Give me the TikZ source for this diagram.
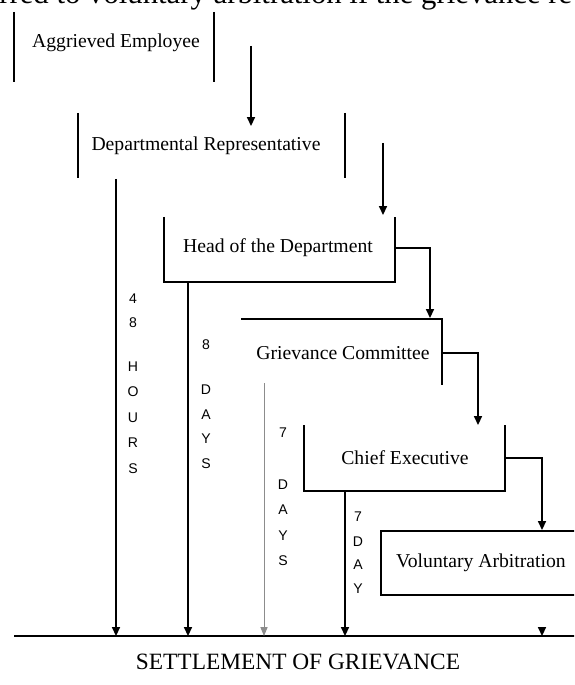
\documentclass[tikz,border=0pt]{standalone}
\usepackage{fontspec}
\setmainfont{Liberation Serif}
\setsansfont{Liberation Sans}
\usetikzlibrary{arrows.meta,positioning}

\begin{document}
\begin{tikzpicture}[x=0.02cm,y=-0.02cm]
\tikzset{
    side/.style={line width=0.9pt},
    faint/.style={line width=0.5pt, draw=black!45},
    flow/.style={line width=0.9pt, -{Triangle[length=5pt,width=4.5pt]}},
    thinflow/.style={faint, -{Triangle[length=5pt,width=4pt]}},
    boxtext/.style={font=\fontsize{11.2}{13}\selectfont, inner sep=0pt},
    vtext/.style={font=\sffamily\fontsize{8}{9}\selectfont, inner sep=0pt}
}
\useasboundingbox (0,0) rectangle (574,685);
\clip (0,0) rectangle (574,685);

% cut off line of the running text above
\node[anchor=base west, inner sep=0pt, font=\fontsize{17.5}{20}\selectfont]
    (body) at (-1,4) {rred to voluntary arbitration if the grievance re};

% the stages
\node[boxtext] (agg) at (116,43) {Aggrieved Employee};
\draw[side] (14,12) -- (14,82);
\draw[side] (214,12) -- (214,82);

\node[boxtext] (dep) at (206,146) {Departmental Representative};
\draw[side] (78,113) -- (78,178);
\draw[side] (345,113) -- (345,178);

\node[boxtext] (head) at (278,248) {Head of the Department};
\draw[side] (164,217) -- (164,282) -- (395,282) -- (395,217);

\node[boxtext] (griev) at (343,353) {Grievance Committee};
\draw[side] (241,319) -- (442,319) -- (442,385);

\node[boxtext] (chief) at (405,458) {Chief Executive};
\draw[side] (304,425) -- (304,491) -- (505,491) -- (505,425);

\node[boxtext] (vol) at (481,563) {Voluntary Arbitration};
\draw[side] (580,531) -- (381,531) -- (381,595) -- (580,595);

% settlement
\coordinate (base) at (14,636);
\draw[side] (base) -- (580,636);
\node[font=\fontsize{13.3}{15}\selectfont, inner sep=0pt] (settle) at (298,662)
    {SETTLEMENT OF GRIEVANCE};

% end points of the connectors
\coordinate (agg-out) at (251,46);
\coordinate (dep-in) at (251,126);
\coordinate (dep-out) at (383,143);
\coordinate (head-in) at (383,215);
\coordinate (head-r) at (395,248);
\coordinate (griev-in) at (430,318);
\coordinate (griev-r) at (442,353);
\coordinate (chief-in) at (478,425);
\coordinate (chief-r) at (505,458);
\coordinate (vol-in) at (542,530);
\coordinate (hours) at (116,179);
\coordinate (days8) at (188,282);
\coordinate (days7) at (264,383);
\coordinate (day7) at (345,491);
\coordinate (vol-out) at (542,628);

\draw[flow] (agg-out) -- (dep-in);
\draw[flow] (dep-out) -- (head-in);
\draw[flow] (head-r) -| (griev-in);
\draw[flow] (griev-r) -| (chief-in);
\draw[flow] (chief-r) -| (vol-in);

\draw[flow] (hours) -- (hours |- base);
\draw[flow] (days8) -- (days8 |- base);
\draw[thinflow] (days7) -- (days7 |- base);
\draw[flow] (day7) -- (day7 |- base);
\draw[flow] (vol-out) -- (vol-out |- base);

% time limits, written downwards
\foreach \c/\y in {4/299,8/323,H/367,O/392,U/418,R/443,S/469}
    \node[vtext] (hrs\y) at (133,\y) {\c};
\foreach \c/\y in {8/345,D/390,A/415,Y/439,S/464}
    \node[vtext] (dga\y) at (206,\y) {\c};
\foreach \c/\y in {7/433,D/485,A/510,Y/536,S/561}
    \node[vtext] (dgb\y) at (283,\y) {\c};
\foreach \c/\y in {7/517,D/542,A/565,Y/589}
    \node[vtext] (dgc\y) at (358,\y) {\c};
\end{tikzpicture}
\end{document}
